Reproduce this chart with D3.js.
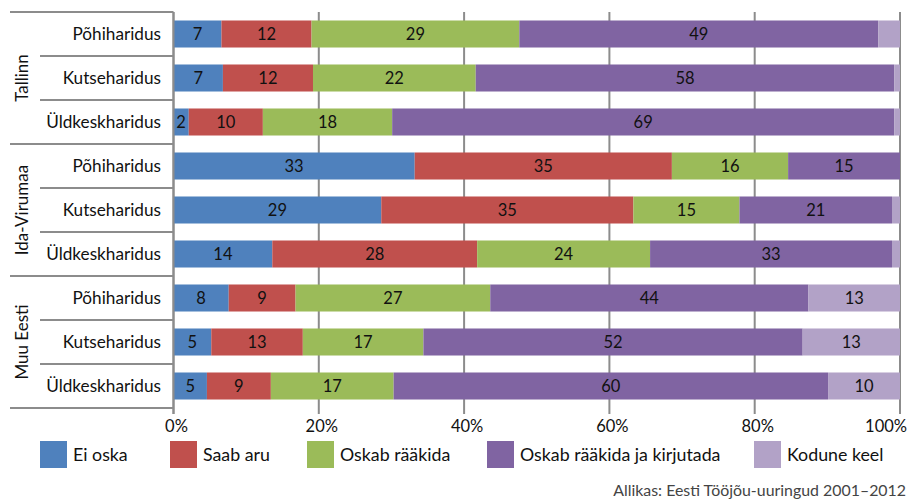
<!DOCTYPE html>
<html><head><meta charset="utf-8">
<script src="https://cdn.jsdelivr.net/npm/d3@7"></script>
<style>body{margin:0;background:#fff;} svg{display:block;font-family:Lato,"Open Sans",sans-serif;}</style>
</head><body><div id="chart"></div>
<script>
const groups = ["Tallinn", "Ida-Virumaa", "Muu Eesti"];
const levels = ["Põhiharidus", "Kutseharidus", "Üldkeskharidus"];
const seriesNames = ["Ei oska", "Saab aru", "Oskab rääkida", "Oskab rääkida ja kirjutada", "Kodune keel"];
const colors = ["#4f81bd", "#c0504d", "#9bbb59", "#8064a2", "#b2a2c7"];
// one array per series, rows in order: Tallinn (Põhi, Kutse, Üld), Ida-Virumaa (...), Muu Eesti (...)
const eiOska       = [6.6, 6.8, 2.1, 33.2, 28.6, 13.6, 7.6, 5.2, 4.6];
const saabAru      = [12.4, 12.4, 10.2, 35.4, 34.7, 28.2, 9.2, 12.6, 8.8];
const oskabRaakida = [28.6, 22.4, 17.8, 16.0, 14.6, 23.8, 26.8, 16.6, 16.9];
const raakidaKirj  = [49.4, 57.6, 69.1, 15.4, 21.0, 33.3, 43.8, 52.2, 59.8];
const koduneKeel   = [3.0, 0.8, 0.8, 0.0, 1.1, 1.1, 12.6, 13.4, 9.9];
const xTicks = [0, 20, 40, 60, 80, 100];
const sourceText = "Allikas: Eesti Tööjõu-uuringud 2001–2012";

const seriesValues = [eiOska, saabAru, oskabRaakida, raakidaKirj, koduneKeel];
const rows = [];
groups.forEach((g, gi) => levels.forEach((l, li) => {
  const i = gi * levels.length + li;
  const r = {id: g + "|" + l, group: g, level: l};
  seriesNames.forEach((s, si) => r[s] = seriesValues[si][i]);
  rows.push(r);
}));

const W = 922, H = 500;
const svg = d3.select("#chart").append("svg").attr("width", W).attr("height", H);
const x = d3.scaleLinear().domain([0, 100]).range([173.5, 900]);
const y = d3.scaleBand().domain(rows.map(r => r.id)).range([12, 408]).paddingInner(0.386).paddingOuter(0.193);
const lineCol = "#8c8c8c";
const textCol = "#111";

// gridlines + bottom ticks
svg.append("g").selectAll("line").data(xTicks).join("line")
  .attr("x1", d => x(d)).attr("x2", d => x(d))
  .attr("y1", 12).attr("y2", 414)
  .attr("stroke", lineCol).attr("stroke-width", 2);

const stack = d3.stack().keys(seriesNames);
const stacked = stack(rows);

const gBars = svg.append("g");
stacked.forEach((layer, si) => {
  gBars.append("g").attr("fill", colors[si]).selectAll("rect").data(layer).join("rect")
    .attr("x", d => x(d[0])).attr("width", d => x(d[1]) - x(d[0]))
    .attr("y", d => y(d.data.id)).attr("height", y.bandwidth());
});
stacked.forEach((layer, si) => {
  gBars.append("g").selectAll("text").data(layer.filter(d => {
      const v = d[1] - d[0];
      if (v < 1.5) return false;
      if (seriesNames[si] === "Kodune keel" && v < 5) return false;
      return true;
    })).join("text")
    .attr("x", d => (x(d[0]) + x(d[1])) / 2)
    .attr("y", d => y(d.data.id) + y.bandwidth() / 2)
    .attr("dy", "0.36em").attr("text-anchor", "middle")
    .attr("font-size", 16.5).attr("fill", textCol)
    .text(d => Math.round(d.data[seriesNames[si]]));
});

// category axis: vertical line
svg.append("line").attr("x1", 173.5).attr("x2", 173.5).attr("y1", 12).attr("y2", 414)
  .attr("stroke", lineCol).attr("stroke-width", 2);

// separators in label area
const step = y.step();
const gSep = svg.append("g");
for (let i = 0; i <= rows.length; i++) {
  const yy = 12 + i * step;
  const isGroup = i % levels.length === 0;
  gSep.append("line").attr("x1", isGroup ? 10 : 40).attr("x2", 173.5)
    .attr("y1", yy).attr("y2", yy).attr("stroke", lineCol).attr("stroke-width", 2);
}

// level labels
svg.append("g").selectAll("text").data(rows).join("text")
  .attr("x", 161).attr("y", d => y(d.id) + y.bandwidth() / 2).attr("dy", "0.36em")
  .attr("text-anchor", "end").attr("font-size", 17.2).attr("fill", textCol).text(d => d.level);

// group labels
svg.append("g").selectAll("text").data(groups).join("text")
  .attr("transform", (g, gi) => {
    const cy = 12 + (gi * levels.length + levels.length / 2) * step;
    return `translate(22,${cy}) rotate(-90)`;
  })
  .attr("dy", "0.36em").attr("text-anchor", "middle").attr("font-size", 17).attr("fill", textCol).text(d => d);

// x tick labels
svg.append("g").selectAll("text").data(xTicks).join("text")
  .attr("x", (d, i) => i === xTicks.length - 1 ? 907 : x(d) + 3)
  .attr("text-anchor", (d, i) => i === xTicks.length - 1 ? "end" : "middle")
  .attr("y", 426).attr("dy", "0.36em")
  .attr("font-size", 16.5).attr("fill", textCol).text(d => d + "%");

// legend
const legendX = [40, 170, 307, 487, 754];
const lg = svg.append("g").selectAll("g").data(seriesNames).join("g")
  .attr("transform", (d, i) => `translate(${legendX[i]},441)`);
lg.append("rect").attr("width", 27).attr("height", 27).attr("fill", (d, i) => colors[i]);
lg.append("text").attr("x", 33).attr("y", 13.5).attr("dy", "0.36em").attr("font-size", 17.8).attr("fill", textCol).text(d => d);

// source
svg.append("text").attr("x", 906).attr("y", 490).attr("dy", "0.36em").attr("text-anchor", "end")
  .attr("font-size", 15.9).attr("fill", "#444").text(sourceText);
</script></body></html>
